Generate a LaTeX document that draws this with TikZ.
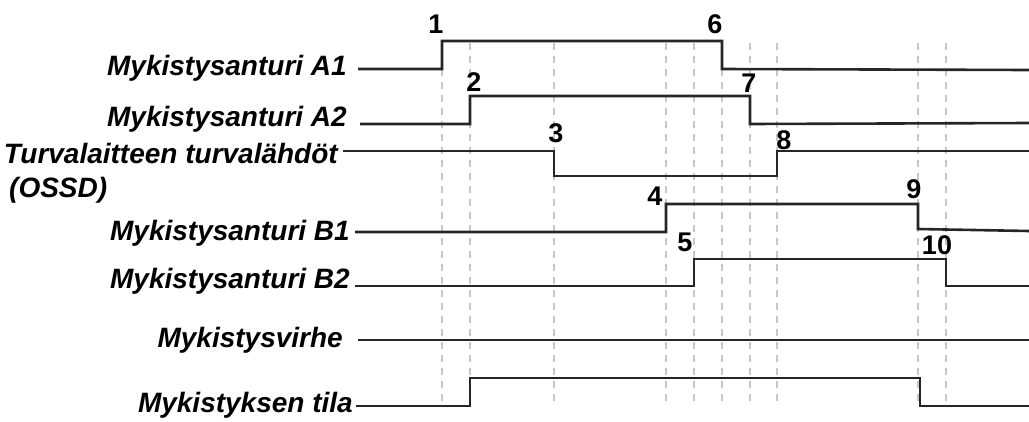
\documentclass[tikz,border=0pt]{standalone}
\usepackage{fontspec}
\setmainfont{Liberation Sans}
\begin{document}
\begin{tikzpicture}[x=1pt,y=-1pt,
  sig/.style={line width=2.6pt, draw=black!85, line join=miter},
  guide/.style={draw=black!22, line width=1.4pt, dash pattern=on 7pt off 6pt},
  lbl/.style={anchor=base east, inner sep=0pt, font=\fontsize{28}{30}\selectfont\bfseries\itshape},
  num/.style={inner sep=0pt, font=\fontsize{27}{29}\selectfont\bfseries}]
\useasboundingbox (0,0) rectangle (1029,421);
% guide lines
\foreach \x/\n in {442/g1,470/g2,554/g3,666/g4,694/g5,722/g6,750/g7,777/g8,918/g9,946/g10}{
  \coordinate (\n t) at (\x,43);
  \coordinate (\n b) at (\x,402);
  \draw[guide] (\n t) -- (\n b);
}
% labels
\node[lbl] (lA1) at (347,75) {Mykistysanturi A1};
\node[lbl] (lA2) at (347,126) {Mykistysanturi A2};
\node[lbl] (lOS) at (338,163) {Turvalaitteen turvalähdöt};
\node[lbl, anchor=base west] (lOS2) at (9,197) {(OSSD)};
\node[lbl] (lB1) at (350,240) {Mykistysanturi B1};
\node[lbl] (lB2) at (350,288) {Mykistysanturi B2};
\node[lbl] (lV) at (343,347) {Mykistysvirhe};
\node[lbl] (lT) at (353,412) {Mykistyksen tila};
% signals
\draw[sig] (358,69) -- (442,69) -- (442,41) -- (722,41) -- (722,69) -- (1029,70);
\draw[sig] (360,124) -- (470,124) -- (470,96) -- (750,96) -- (750,124) -- (1029,123);
\draw[sig] (343,151) -- (554,151) -- (554,176) -- (777,176) -- (777,151) -- (1029,151);
\draw[sig] (355,232) -- (666,232) -- (666,204) -- (918,204) -- (918,229) -- (1029,231);
\draw[sig] (355,286) -- (694,286) -- (694,259) -- (946,259) -- (946,286) -- (1029,286);
\draw[sig] (358,340) -- (1029,340);
\draw[sig] (356,406) -- (470,406) -- (470,378) -- (920,378) -- (920,406) -- (1029,406);
% event numbers
\node[num] (n1) at (436,24) {1};
\node[num] (n2) at (474,82) {2};
\node[num] (n3) at (556,133) {3};
\node[num] (n4) at (655,196) {4};
\node[num] (n5) at (685,242) {5};
\node[num] (n6) at (715,24) {6};
\node[num] (n7) at (749,83) {7};
\node[num] (n8) at (784,140) {8};
\node[num] (n9) at (914,189) {9};
\node[num] (n10) at (937,245) {10};
\end{tikzpicture}
\end{document}
